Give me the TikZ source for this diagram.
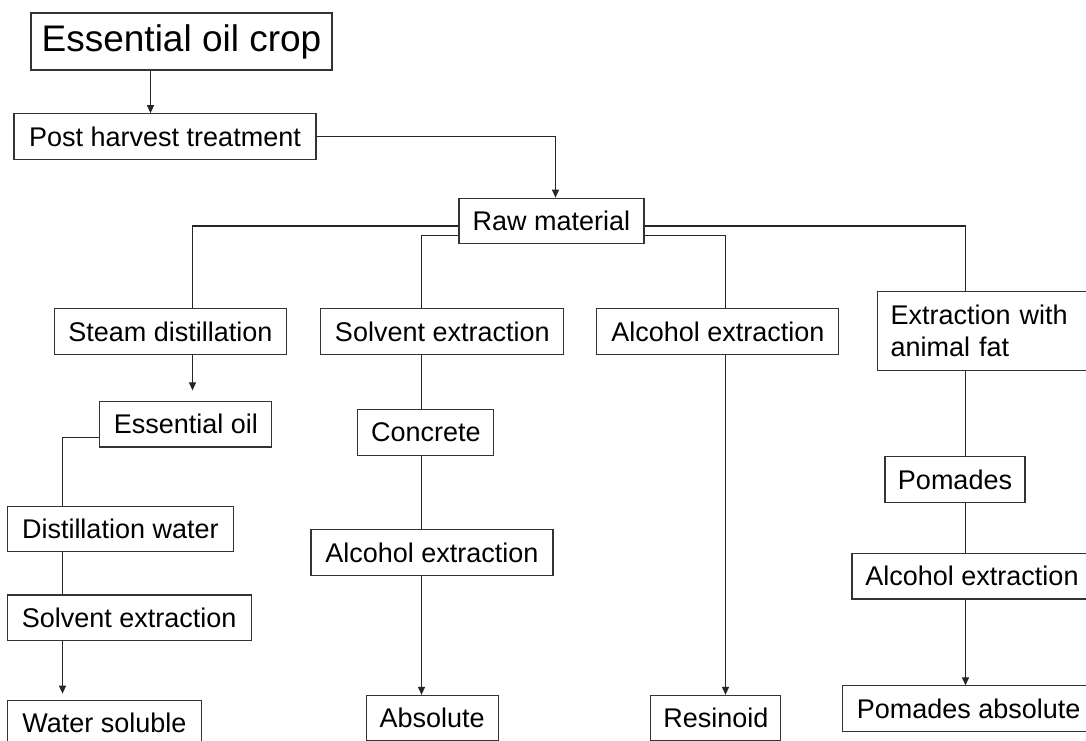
\documentclass[tikz,border=0pt]{standalone}
\usepackage{fontspec}
\setmainfont{Liberation Sans}
\usetikzlibrary{arrows.meta}
\tikzset{
  box/.style={draw=black!80, line width=1.1pt, inner sep=0pt, minimum height=45.6pt,
    font=\fontsize{27}{31.3}\selectfont},
  link/.style={draw=black!85, line width=1.1pt},
  arr/.style={link, -{Triangle[length=8pt,width=7pt]}}
}
\begin{document}
\begin{tikzpicture}[x=1pt, y=-1pt]
  \useasboundingbox (0,0) rectangle (1086,740);
  \clip (0,0) rectangle (1086,740);
  %
  \def\boxes {post/165/136.5/302/Post harvest treatment,
    raw/551.5/221/185/Raw material,
    steam/170.5/331.5/232/Steam distillation,
    solv/442.3/331.5/243/Solvent extraction,
    alc/717.8/331.5/242/Alcohol extraction,
    eoil/185.8/424.2/172/Essential oil,
    dwat/120.3/529/226/Distillation water,
    solvw/129.2/617.8/244/Solvent extraction,
    wsol/104.3/723/194/Water soluble,
    conc/425.9/432.5/136/Concrete,
    alcc/432/552.5/242/Alcohol extraction,
    abs/432.2/718.2/132/Absolute,
    res/715.9/718.2/130/Resinoid,
    pom/955/479.5/140/Pomades,
    alcp/972/576.2/240/Alcohol extraction,
    pabs/968.7/708.7/253/Pomades absolute};
  % the boxes of the chart
  \node[box, minimum width=301pt, minimum height=57pt, font=\fontsize{37}{40}\selectfont]
    (crop) at (181.5,41.5) {Essential oil crop};
  \foreach \name/\x/\y/\w/\txt in \boxes{
    \node[box, minimum width=\w pt] (\name) at (\x,\y) {\txt};
  }
  \node[box, anchor=north west, align=left, text width=192pt, inner xsep=13pt,
    minimum height=78.5pt] (fat) at (877,291) {Extraction with\\animal fat};
  % x positions of the vertical connectors
  \coordinate (xcrop) at (150.5,0);
  \coordinate (xraw) at (555.5,0);
  \coordinate (xsteam) at (192.5,0);
  \coordinate (xsolv) at (421.5,0);
  \coordinate (xalc) at (725.5,0);
  \coordinate (xfat) at (965.5,0);
  \coordinate (xwat) at (62.5,0);
  % top of the chart
  \draw[arr] (crop.south -| xcrop) -- (post.north -| xcrop);
  \draw[arr] (post.east) -| (raw.north -| xraw);
  % the four branches from the raw material
  \draw[link] ([yshift=-5pt]raw.west) -| (steam.north -| xsteam);
  \draw[link] ([yshift=-5pt]raw.east) -| (fat.north -| xfat);
  \draw[link] ([yshift=-14.7pt]raw.west) -| (solv.north -| xsolv);
  \draw[link] ([yshift=-14.7pt]raw.east) -| (alc.north -| xalc);
  % steam distillation
  \draw[arr, shorten >=10.5pt] (steam.south -| xsteam) -- (eoil.north -| xsteam);
  \draw[link] ([yshift=-13pt]eoil.west) -| (dwat.north -| xwat);
  \draw[link] (dwat.south -| xwat) -- (solvw.north -| xwat);
  \draw[arr, shorten >=6pt] (solvw.south -| xwat) -- (wsol.north -| xwat);
  % solvent extraction
  \draw[link] (solv.south -| xsolv) -- (conc.north -| xsolv);
  \draw[link] (conc.south -| xsolv) -- (alcc.north -| xsolv);
  \draw[arr] (alcc.south -| xsolv) -- (abs.north -| xsolv);
  % alcohol extraction
  \draw[arr] (alc.south -| xalc) -- (res.north -| xalc);
  % extraction with animal fat
  \draw[link] (fat.south -| xfat) -- (pom.north -| xfat);
  \draw[link] (pom.south -| xfat) -- (alcp.north -| xfat);
  \draw[arr] (alcp.south -| xfat) -- (pabs.north -| xfat);
\end{tikzpicture}
\end{document}
